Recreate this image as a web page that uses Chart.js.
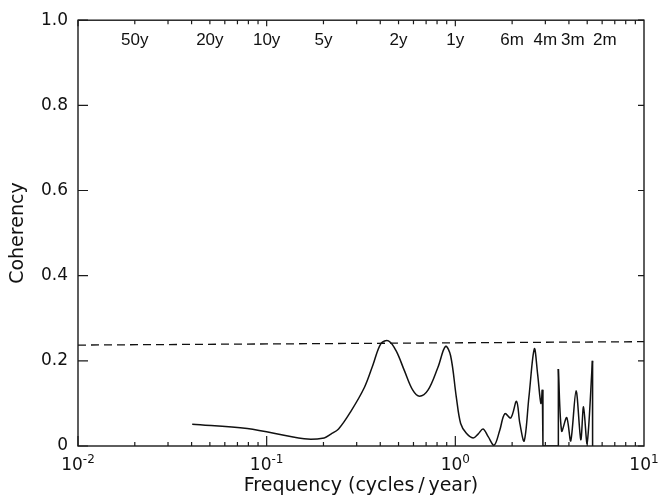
<!DOCTYPE html>
<html>
<head>
<meta charset="utf-8">
<title>Coherency</title>
<script src="https://cdn.jsdelivr.net/npm/chart.js@4.4.1/dist/chart.umd.min.js"></script>
<style>
  html, body { margin: 0; padding: 0; background: #fff; }
  canvas { display: block; }
</style>
</head>
<body>
<canvas id="chart" width="672" height="502"></canvas>
<script>
// coherency estimate, smooth part (frequency in cycles/year)
const mainFreq = [0.0403, 0.0789, 0.158, 0.2018, 0.219, 0.2405, 0.28, 0.33, 0.365, 0.404,
    0.442, 0.485, 0.537, 0.595, 0.646, 0.716, 0.809, 0.887, 0.944, 1.012,
    1.067, 1.144, 1.242, 1.32, 1.403, 1.493, 1.606, 1.72, 1.829, 1.968,
    2.11, 2.198, 2.317, 2.455, 2.622, 2.73, 2.842, 2.892];
const mainCoh = [0.051, 0.041, 0.017, 0.019, 0.028, 0.040, 0.082, 0.138, 0.189, 0.241,
    0.247, 0.224, 0.177, 0.131, 0.117, 0.131, 0.185, 0.234, 0.212, 0.115,
    0.053, 0.030, 0.019, 0.028, 0.040, 0.022, 0.002, 0.037, 0.076, 0.066,
    0.105, 0.053, 0.012, 0.115, 0.228, 0.169, 0.100, 0.132];

// vertical drop to zero and jump back up
const dropFreq = [2.892, 2.913, 3.516, 3.516];
const dropCoh = [0.132, 0, 0, 0.181];

// high frequency cluster
const highFreq = [3.516, 3.66, 3.894, 4.09, 4.365, 4.624, 4.78, 4.994, 5.33];
const highCoh = [0.181, 0.035, 0.067, 0.012, 0.13, 0.015, 0.092, 0.006, 0.200];

const tailFreq = [5.33, 5.34];
const tailCoh = [0.200, 0];

// significance level (dashed)
const limitFreq = [0.01, 10];
const limitCoh = [0.237, 0.245];

// period labels along the top
const periodLabels = ['50y', '20y', '10y', '5y', '2y', '1y', '6m', '4m', '3m', '2m'];
const periodFreq = [0.02, 0.05, 0.1, 0.2, 0.5, 1, 2, 3, 4.2, 6.2];

const decades = [-2, -1, 0, 1];
const yTicks = [0, 0.2, 0.4, 0.6, 0.8, 1.0];

function pts(xs, ys) {
    return xs.map((x, i) => ({x: x, y: ys[i]}));
}

// frame, inward ticks, x labels with exponents, period labels
const frame = {
    id: 'frame',
    afterDatasetsDraw(chart) {
        const {ctx, chartArea: a, scales: {x, y}} = chart;
        ctx.save();
        ctx.strokeStyle = '#1a1a1a';
        ctx.lineWidth = 1.4;
        ctx.strokeRect(a.left, a.top, a.right - a.left, a.bottom - a.top);

        ctx.lineWidth = 1.2;
        ctx.beginPath();
        yTicks.forEach(v => {
            const py = y.getPixelForValue(v);
            ctx.moveTo(a.left, py); ctx.lineTo(a.left + 10, py);
            ctx.moveTo(a.right, py); ctx.lineTo(a.right - 6, py);
        });
        for (let d = -2; d < 1; d++) {
            for (let m = 1; m < 10; m++) {
                const px = x.getPixelForValue(m * Math.pow(10, d));
                const len = m === 1 ? 10 : 4;
                ctx.moveTo(px, a.bottom); ctx.lineTo(px, a.bottom - len);
                ctx.moveTo(px, a.top); ctx.lineTo(px, a.top + (m === 1 ? 6 : 4));
            }
        }
        ctx.stroke();

        ctx.fillStyle = '#111';
        ctx.textBaseline = 'alphabetic';
        decades.forEach(d => {
            const px = x.getPixelForValue(Math.pow(10, d));
            const exp = String(d);
            ctx.font = "17px 'DejaVu Sans'";
            const wb = ctx.measureText('10').width;
            ctx.font = "12px 'DejaVu Sans'";
            const we = ctx.measureText(exp).width;
            const x0 = px - (wb + we) / 2;
            ctx.font = "17px 'DejaVu Sans'";
            ctx.textAlign = 'left';
            ctx.fillText('10', x0, a.bottom + 24);
            ctx.font = "12px 'DejaVu Sans'";
            ctx.fillText(exp, x0 + wb, a.bottom + 17);
        });

        ctx.font = "17px 'Liberation Sans'";
        ctx.textAlign = 'center';
        periodLabels.forEach((t, i) => {
            ctx.fillText(t, x.getPixelForValue(periodFreq[i]), a.top + 24.5);
        });
        ctx.restore();
    }
};

Chart.defaults.font.family = "'DejaVu Sans', sans-serif";
Chart.defaults.color = '#111';

const ctx = document.getElementById('chart').getContext('2d');
new Chart(ctx, {
    type: 'scatter',
    data: {
        datasets: [
            {data: pts(mainFreq, mainCoh), tension: 0.35},
            {data: pts(dropFreq, dropCoh), tension: 0},
            {data: pts(highFreq, highCoh), tension: 0.3},
            {data: pts(tailFreq, tailCoh), tension: 0},
            {data: pts(limitFreq, limitCoh), tension: 0, borderDash: [8, 5], borderWidth: 1.3}
        ]
    },
    options: {
        responsive: false,
        animation: false,
        showLine: true,
        layout: {padding: {top: 17, right: 28, left: 0, bottom: 0}},
        plugins: {legend: {display: false}, tooltip: {enabled: false}},
        elements: {
            point: {radius: 0},
            line: {borderColor: '#111', borderWidth: 1.5, fill: false}
        },
        scales: {
            x: {
                type: 'logarithmic', min: 0.01, max: 10,
                grid: {display: false, drawTicks: false},
                border: {display: false},
                ticks: {display: false},
                title: {display: true, text: 'Frequency (cycles\u2009/\u2009year)', font: {size: 19}, padding: {top: 0, bottom: 5}},
                afterFit: s => { s.height = 56; }
            },
            y: {
                min: 0, max: 1,
                grid: {display: false, drawTicks: false},
                border: {display: false},
                ticks: {stepSize: 0.2, padding: 10, font: {size: 17}, callback: v => v === 0 ? '0' : v.toFixed(1)},
                title: {display: true, text: 'Coherency', font: {size: 19}, padding: {top: 7, bottom: 0}},
                afterFit: s => { s.width = 78; }
            }
        }
    },
    plugins: [frame]
});
</script>
</body>
</html>
